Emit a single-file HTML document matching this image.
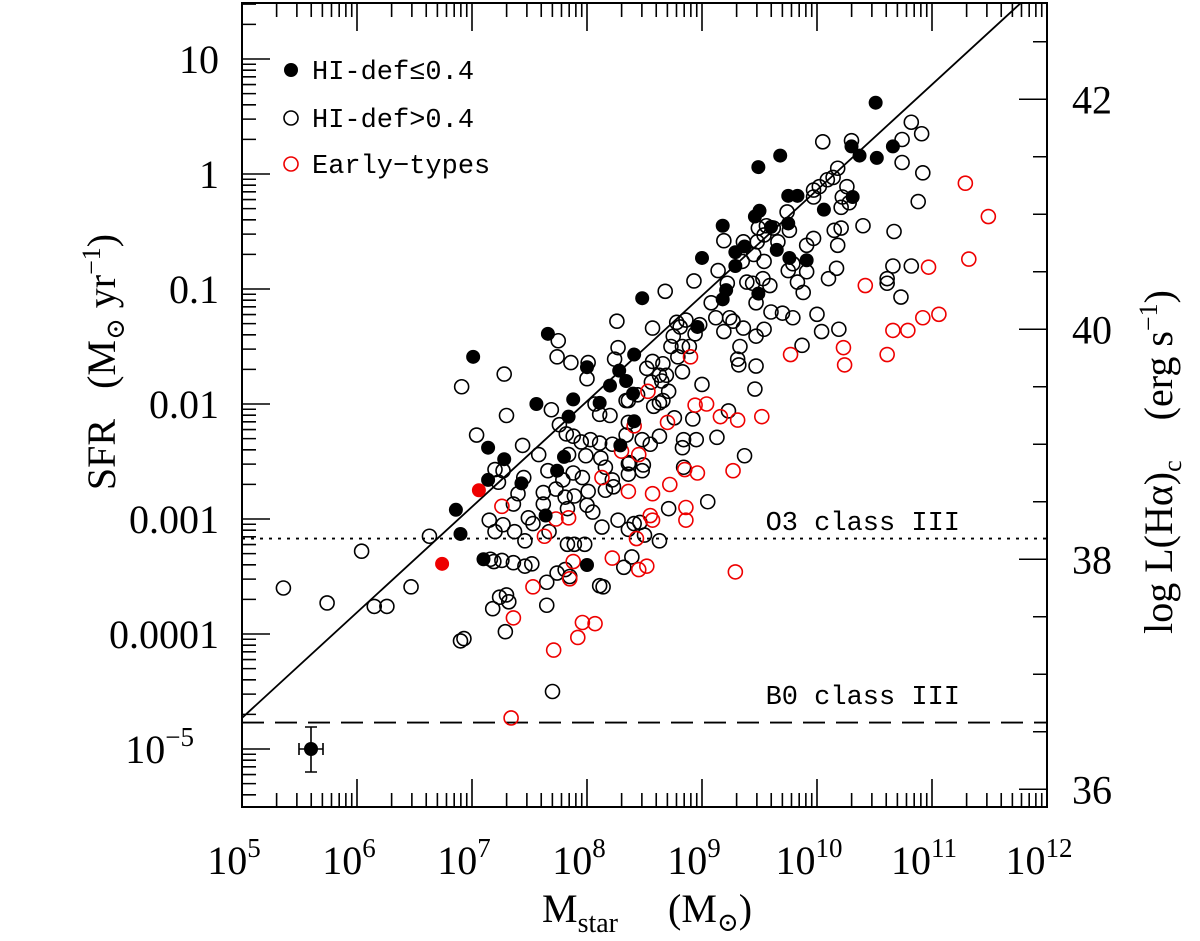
<!DOCTYPE html>
<html><head><meta charset="utf-8"><style>
html,body{margin:0;padding:0;background:#fff;}
svg{display:block;font-family:"Liberation Serif","DejaVu Serif",serif;}
text{white-space:pre;}
</style></head><body>
<svg id="chart" width="1200" height="941" viewBox="0 0 1200 941" xmlns="http://www.w3.org/2000/svg" xml:space="preserve">
<rect x="0" y="0" width="1200" height="941" fill="#fff"/>
<g id="ticks"></g>
<g id="marks"></g>
<rect x="242" y="3" width="805" height="804" fill="none" stroke="#000" stroke-width="2"/>
<g id="labels" font-size="40" fill="#000"></g>
<text x="960" y="530" font-size="27" text-anchor="end" font-family="Liberation Mono, monospace">O3 class III</text>
<text x="960" y="704" font-size="27" text-anchor="end" font-family="Liberation Mono, monospace">B0 class III</text>
<g font-size="27" font-family="Liberation Mono, monospace">
<circle cx="291" cy="70" r="7" fill="#000"/>
<text x="312" y="79">HI-def≤0.4</text>
<circle cx="291" cy="118" r="7" fill="none" stroke="#000" stroke-width="1.6"/>
<text x="312" y="127">HI-def&gt;0.4</text>
<circle cx="291" cy="164" r="7" fill="none" stroke="#e00" stroke-width="1.6"/>
<text x="312" y="173">Early−types</text>
</g>
<text transform="translate(115,362) rotate(-90)" font-size="40" text-anchor="middle">SFR   (M<tspan font-size="26" dy="9">⊙</tspan><tspan dy="-9"> yr</tspan><tspan font-size="26" dy="-15">−1</tspan><tspan dy="15">)</tspan></text>
<text transform="translate(1172,462) rotate(-90)" font-size="40" text-anchor="middle">log L(Hα)<tspan font-size="26" dy="9">c</tspan><tspan dy="-9">    (erg s</tspan><tspan font-size="26" dy="-15">−1</tspan><tspan dy="15">)</tspan></text>
<text x="647" y="922" font-size="40" text-anchor="middle">M<tspan font-size="28" dy="10">star</tspan><tspan dy="-10">     (M</tspan><tspan font-size="26" dy="9">⊙</tspan><tspan dy="-9">)</tspan></text>
</svg>
<script>
const xTicks=[5,6,7,8,9,10,11,12];
const yTicks=[1,0,-1,-2,-3,-4,-5];
const yTickLabels=["10","1","0.1","0.01","0.001","0.0001","10"];
const y2Ticks=[36,38,40,42];
const lumOffset=41.35;
const lineIntercept=-4.73, lineSlope=0.918;
const o3Level=-3.17, b0Level=-4.77;
const errPoint=[5.6,-5.0];
const filledM=[7.01,7.14,7.28,7.14,6.86,6.90,7.10,7.43,7.56,7.66,7.80,7.74,7.84,7.88,8.00,8.11,8.20,8.28,8.41,8.34,8.40,7.64,8.00,10.51,10.66,10.52,10.37,10.30,9.68,9.49,9.75,9.83,10.31,10.06,9.50,9.46,9.60,9.75,9.18,9.00,9.29,9.37,9.29,9.65,9.76,9.91,9.21,9.18,9.49,8.48,8.96,8.41,8.29];
const filledS=[-1.59,-2.38,-2.48,-2.66,-2.92,-3.13,-3.35,-2.69,-2.00,-1.39,-2.46,-2.58,-2.11,-1.96,-1.68,-1.99,-1.84,-1.71,-1.57,-1.80,-1.91,-2.97,-3.40,0.62,0.24,0.14,0.16,0.24,0.16,0.06,-0.19,-0.19,-0.20,-0.31,-0.32,-0.37,-0.46,-0.43,-0.45,-0.73,-0.68,-0.63,-0.80,-0.66,-0.73,-0.75,-1.01,-1.09,-1.04,-1.08,-1.33,-2.15,-2.36];
const openM=[5.36,5.74,6.04,6.15,6.26,6.47,6.63,6.91,7.28,7.04,7.30,7.44,7.69,7.75,7.74,7.86,8.01,8.00,8.26,8.27,8.24,8.34,8.07,8.11,8.20,7.76,7.82,7.88,7.95,8.03,8.11,8.22,8.36,8.34,7.58,7.84,7.99,8.12,8.16,8.36,7.20,7.27,7.45,7.66,7.88,7.96,7.23,7.79,8.36,8.22,8.16,7.40,7.62,7.73,7.81,7.89,8.01,7.36,7.62,7.83,8.00,8.05,7.15,7.27,7.49,7.53,7.67,7.20,7.37,7.46,8.13,8.27,7.83,7.89,7.98,8.39,7.16,7.19,7.26,7.36,7.46,7.52,8.32,7.74,7.81,7.85,7.65,8.11,7.24,7.30,7.32,7.18,7.65,7.29,6.90,6.93,7.70,
10.82,10.91,10.74,10.74,10.92,10.88,10.67,10.05,10.30,10.18,10.14,10.09,10.02,9.97,9.97,10.26,10.22,10.28,10.21,10.40,10.21,10.15,9.97,9.91,10.18,9.74,9.76,9.66,9.56,9.62,9.49,9.54,9.48,9.19,9.36,9.45,9.35,9.54,9.79,9.75,9.91,9.83,9.88,10.17,10.10,10.00,10.04,10.19,9.87,10.66,10.82,10.61,10.61,10.73,9.14,8.93,8.68,9.22,9.39,9.44,9.53,9.59,9.47,9.08,9.12,9.24,9.27,9.36,9.19,9.47,9.54,9.60,9.70,9.79,8.57,8.78,8.86,8.75,8.81,8.94,8.98,8.73,8.83,8.89,8.79,8.57,8.52,8.66,8.63,8.69,8.83,8.65,8.56,8.71,8.44,9.00,9.33,9.31,9.32,9.47,9.46,8.36,8.66,8.58,8.63,8.76,8.92,8.84,8.95,9.13,9.37,8.63,8.55,8.48,8.37,8.49,8.84,9.23,
8.71,9.05,8.41,8.46,8.36,8.50,8.63,8.14,8.83,8.48,8.23];
const openS=[-3.60,-3.73,-3.28,-3.76,-3.76,-3.59,-3.15,-1.85,-1.74,-2.27,-2.10,-2.36,-2.05,-1.45,-1.59,-1.64,-1.64,-1.78,-1.28,-1.51,-1.61,-1.97,-2.00,-2.09,-2.10,-2.18,-2.26,-2.28,-2.33,-2.31,-2.34,-2.35,-2.16,-2.27,-2.44,-2.44,-2.45,-2.47,-2.55,-2.52,-2.57,-2.58,-2.64,-2.58,-2.60,-2.64,-2.68,-2.66,-2.61,-2.66,-2.75,-2.78,-2.77,-2.74,-2.81,-2.80,-2.76,-2.87,-2.87,-2.91,-2.88,-2.94,-3.01,-3.05,-2.99,-3.04,-3.11,-3.11,-3.11,-3.19,-3.07,-3.01,-3.22,-3.22,-3.22,-3.33,-3.35,-3.37,-3.36,-3.38,-3.41,-3.39,-3.42,-3.47,-3.44,-3.50,-3.55,-3.58,-3.68,-3.66,-3.72,-3.78,-3.75,-3.98,-4.06,-4.04,-4.50,
0.45,0.35,0.30,0.10,0.01,-0.24,-0.50,0.28,0.29,0.05,-0.03,-0.05,-0.11,-0.14,-0.20,-0.11,-0.20,-0.25,-0.29,-0.45,-0.47,-0.49,-0.56,-0.62,-0.62,-0.33,-0.49,-0.59,-0.45,-0.47,-0.47,-0.53,-0.59,-0.58,-0.59,-0.70,-0.76,-0.76,-0.78,-0.84,-0.85,-0.94,-1.03,-0.82,-0.91,-1.22,-1.37,-1.35,-1.49,-0.80,-0.80,-0.91,-0.95,-1.07,-0.84,-0.93,-1.02,-0.95,-0.94,-0.95,-0.91,-0.97,-1.12,-1.12,-1.25,-1.25,-1.28,-1.34,-1.37,-1.41,-1.35,-1.20,-1.21,-1.25,-1.34,-1.29,-1.27,-1.41,-1.33,-1.39,-1.31,-1.50,-1.50,-1.50,-1.59,-1.63,-1.69,-1.65,-1.75,-1.75,-1.72,-1.80,-1.81,-1.89,-1.92,-1.83,-1.50,-1.61,-1.66,-1.67,-1.87,-1.97,-1.97,-2.02,-1.99,-2.12,-2.13,-2.31,-2.31,-2.29,-2.45,-2.28,-2.35,-2.31,-2.51,-2.53,-2.55,-2.06,
-2.91,-2.85,-3.04,-3.03,-3.09,-3.14,-3.19,-3.59,-2.38,-2.58,-2.72];
const redFilledM=[7.06,6.74];
const redFilledS=[-2.75,-3.39];
const redM=[8.41,8.30,8.45,8.13,8.36,7.26,7.73,7.84,7.63,8.43,8.22,7.88,7.85,8.45,8.52,7.53,7.36,7.96,8.07,7.92,7.71,7.34,11.29,11.49,11.32,10.97,10.42,11.06,10.92,10.79,10.66,10.61,10.23,10.24,9.77,8.90,8.53,8.94,9.04,9.16,9.31,9.52,8.70,8.85,8.96,9.27,8.72,8.57,8.86,8.86,8.55,8.57,9.29];
const redS=[-2.19,-2.41,-2.44,-2.64,-2.76,-2.89,-3.00,-2.99,-3.15,-3.17,-3.34,-3.37,-3.52,-3.44,-3.41,-3.59,-3.86,-3.90,-3.91,-4.03,-4.14,-4.73,-0.08,-0.37,-0.74,-0.81,-0.97,-1.22,-1.25,-1.36,-1.36,-1.57,-1.51,-1.66,-1.57,-1.59,-1.89,-2.01,-2.00,-2.11,-2.14,-2.11,-2.16,-2.57,-2.60,-2.58,-2.70,-2.78,-2.90,-3.01,-2.97,-3.01,-3.46];

const NS="http://www.w3.org/2000/svg";
const X0=242,XD=115,Y0=174,YD=115,LEFT=242,RIGHT=1047,TOP=3,BOT=807;
function xs(m){return X0+XD*(m-5);}
function ys(s){return Y0-YD*s;}
function mk(tag,attrs,parent){const e=document.createElementNS(NS,tag);for(const k in attrs)e.setAttribute(k,attrs[k]);parent.appendChild(e);return e;}
const ticks=document.getElementById('ticks');
const marks=document.getElementById('marks');
const labels=document.getElementById('labels');
let d="";
for(let dec=5;dec<12;dec++){for(let k=1;k<10;k++){const x=xs(dec+Math.log10(k));const L=k===1?28:14;d+=`M${x} ${BOT}V${BOT-L}M${x} ${TOP}V${TOP+L}`;}}
for(let dec=-6;dec<2;dec++){for(let k=1;k<10;k++){const y=ys(dec+Math.log10(k));if(y<TOP||y>BOT)continue;const L=k===1?28:14;d+=`M${LEFT} ${y}H${LEFT+L}`;}}
for(let v=35.5;v<=43;v+=0.5){const y=ys(v-lumOffset);if(y<TOP||y>BOT)continue;const L=(v%2===0)?28:14;d+=`M${RIGHT} ${y}H${RIGHT-L}`;}
const tp=mk('path',{d:d,stroke:'#000','stroke-width':1.6,fill:'none'},ticks);


const fit=mk('line',{x1:xs(5),y1:ys(lineIntercept),x2:xs(5+(1.487-lineIntercept)/lineSlope),y2:ys(1.487),stroke:'#000','stroke-width':1.8},marks);


const o3=mk('line',{x1:LEFT,x2:RIGHT,y1:ys(o3Level),y2:ys(o3Level),stroke:'#000','stroke-width':1.8,'stroke-dasharray':'3 6'},marks);


const b0=mk('line',{x1:LEFT,x2:RIGHT,y1:ys(b0Level),y2:ys(b0Level),stroke:'#000','stroke-width':1.8,'stroke-dasharray':'22 11'},marks);


for(let i=0;i<openM.length;i++){const c=mk('circle',{cx:xs(openM[i]),cy:ys(openS[i]),r:7,fill:'none',stroke:'#000','stroke-width':1.6},marks);

}
for(let i=0;i<redM.length;i++){const c=mk('circle',{cx:xs(redM[i]),cy:ys(redS[i]),r:7,fill:'none',stroke:'#e00','stroke-width':1.6},marks);

}
for(let i=0;i<filledM.length;i++){const c=mk('circle',{cx:xs(filledM[i]),cy:ys(filledS[i]),r:7,fill:'#000'},marks);

}
for(let i=0;i<redFilledM.length;i++){const c=mk('circle',{cx:xs(redFilledM[i]),cy:ys(redFilledS[i]),r:7,fill:'#e00'},marks);

}
const ex=xs(errPoint[0]),ey=ys(errPoint[1]);
const eb=mk('path',{d:`M${ex} ${ey-22}V${ey+23}M${ex-6} ${ey-22}H${ex+6}M${ex-6} ${ey+23}H${ex+6}M${ex-12} ${ey}H${ex+12}M${ex-12} ${ey-6}V${ey+6}M${ex+12} ${ey-6}V${ey+6}`,stroke:'#000','stroke-width':1.6,fill:'none'},marks);


const ec=mk('circle',{cx:ex,cy:ey,r:7,fill:'#000'},marks);


xTicks.forEach(v=>{const t=mk('text',{x:xs(v)-8,y:874,'text-anchor':'middle'},labels);


t.innerHTML=`10<tspan font-size="27" dy="-17">${v}</tspan>`;});
yTicks.forEach((v,i)=>{const t=mk('text',{x:219,y:ys(v)+14,'text-anchor':'end'},labels);


if(v===-5){t.setAttribute('x',194);t.innerHTML=`${yTickLabels[i]}<tspan font-size="27" dy="-17">−5</tspan>`;}else t.textContent=yTickLabels[i];});
y2Ticks.forEach(v=>{const t=mk('text',{x:1072,y:ys(v-lumOffset)+14,'text-anchor':'start'},labels);


t.textContent=v;});
</script>
</body></html>
